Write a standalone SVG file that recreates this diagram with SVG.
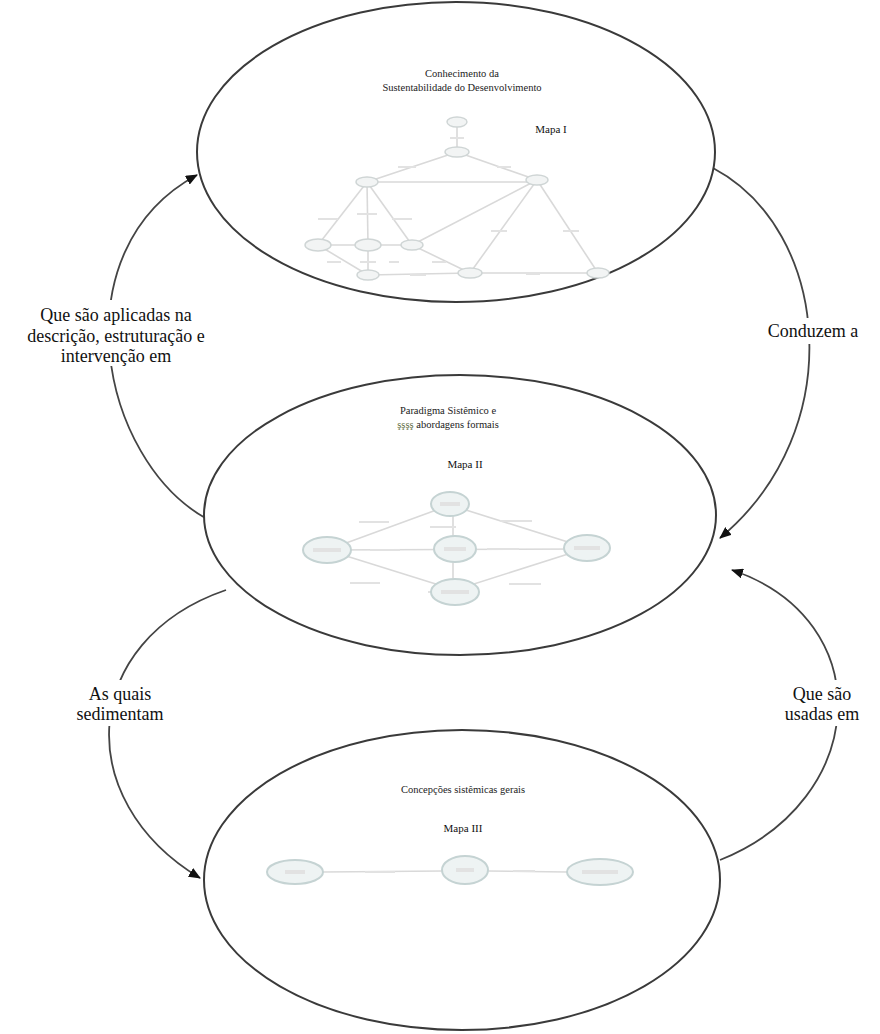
<svg xmlns="http://www.w3.org/2000/svg" width="880" height="1034" viewBox="0 0 880 1034">
<defs>
<marker id="ah" viewBox="0 0 12 10" refX="11" refY="5" markerWidth="12" markerHeight="10" markerUnits="userSpaceOnUse" orient="auto">
<path d="M0,0 L12,5 L0,10 z" fill="#111"/>
</marker>
<style>
.big{fill:#fff;stroke:#3a3a3a;stroke-width:2}
.arc{fill:none;stroke:#444;stroke-width:1.8}
.lbl{font-size:18px;fill:#111;text-anchor:middle}
.ttl{font-size:10.5px;fill:#222;text-anchor:middle}
.map{font-size:11px;fill:#111;text-anchor:middle}
.ml{stroke:#d9d9d9;stroke-width:1.6;fill:none}
.mn{fill:#f2f4f4;stroke:#cfd5d5;stroke-width:1.4}
.mn2{fill:#eef3f3;stroke:#c5d3d3;stroke-width:2}
.tl{fill:#e2e2e2}
.bg{fill:#fff}
</style>
</defs>

<g id="connectors">
<path class="arc" d="M 207 519 C 100 460, 58 250, 197 175" marker-end="url(#ah)"/>
<path class="arc" d="M 713 168 C 830 230, 850 430, 720 538" marker-end="url(#ah)"/>
<path class="arc" d="M 226 590 C 80 640, 70 800, 200 878" marker-end="url(#ah)"/>
<path class="arc" d="M 720 860 C 870 800, 880 620, 732 570" marker-end="url(#ah)"/>
</g>

<g font-family="Liberation Serif, Times New Roman, serif">
<g id="node-mapa1">
<ellipse class="big" cx="456" cy="152" rx="259" ry="150"/>
<text class="ttl" x="462" y="77">Conhecimento da</text>
<text class="ttl" x="462" y="91">Sustentabilidade do Desenvolvimento</text>
<text class="map" x="551" y="133">Mapa I</text>
<g>
<line class="ml" x1="457" y1="122" x2="457" y2="152"/>
<line class="ml" x1="457" y1="152" x2="367" y2="182"/>
<line class="ml" x1="457" y1="152" x2="537" y2="180"/>
<line class="ml" x1="367" y1="182" x2="537" y2="182"/>
<line class="ml" x1="367" y1="182" x2="318" y2="245"/>
<line class="ml" x1="367" y1="182" x2="368" y2="245"/>
<line class="ml" x1="367" y1="182" x2="412" y2="245"/>
<line class="ml" x1="537" y1="180" x2="412" y2="245"/>
<line class="ml" x1="537" y1="180" x2="470" y2="273"/>
<line class="ml" x1="537" y1="180" x2="598" y2="273"/>
<line class="ml" x1="318" y1="245" x2="412" y2="245"/>
<line class="ml" x1="318" y1="245" x2="368" y2="275"/>
<line class="ml" x1="368" y1="245" x2="368" y2="275"/>
<line class="ml" x1="412" y1="245" x2="470" y2="273"/>
<line class="ml" x1="368" y1="275" x2="470" y2="273"/>
<line class="ml" x1="470" y1="273" x2="598" y2="273"/>
<rect class="tl" x="450" y="137" width="14" height="2"/>
<rect class="tl" x="398" y="166" width="18" height="2"/>
<rect class="tl" x="497" y="166" width="14" height="2"/>
<rect class="tl" x="318" y="218" width="20" height="2"/>
<rect class="tl" x="357" y="213" width="20" height="2"/>
<rect class="tl" x="392" y="218" width="20" height="2"/>
<rect class="tl" x="491" y="230" width="16" height="2"/>
<rect class="tl" x="563" y="230" width="16" height="2"/>
<rect class="tl" x="327" y="261" width="14" height="2"/>
<rect class="tl" x="360" y="261" width="16" height="2"/>
<rect class="tl" x="389" y="261" width="10" height="2"/>
<rect class="tl" x="432" y="261" width="14" height="2"/>
<rect class="tl" x="410" y="274" width="16" height="2"/>
<rect class="tl" x="526" y="273" width="14" height="2"/>
<ellipse class="mn" cx="457" cy="122" rx="10" ry="5"/>
<ellipse class="mn" cx="457" cy="152" rx="12" ry="5"/>
<ellipse class="mn" cx="367" cy="182" rx="11" ry="5"/>
<ellipse class="mn" cx="537" cy="180" rx="11" ry="5"/>
<ellipse class="mn" cx="318" cy="245" rx="13" ry="6"/>
<ellipse class="mn" cx="368" cy="245" rx="13" ry="6"/>
<ellipse class="mn" cx="412" cy="245" rx="11" ry="5"/>
<ellipse class="mn" cx="368" cy="275" rx="11" ry="5"/>
<ellipse class="mn" cx="470" cy="273" rx="12" ry="5"/>
<ellipse class="mn" cx="598" cy="273" rx="11" ry="5"/>
</g>
</g>

<g id="node-mapa2">
<ellipse class="big" cx="460" cy="515" rx="256" ry="140"/>
<text class="ttl" x="448" y="414">Paradigma Sistêmico  e</text>
<text class="ttl" x="448" y="428"><tspan fill="#5a6a3a">şşşş</tspan> abordagens formais</text>
<text class="map" x="465" y="468">Mapa II</text>
<g>
<line class="ml" x1="450" y1="505" x2="327" y2="550"/>
<line class="ml" x1="450" y1="505" x2="587" y2="548"/>
<line class="ml" x1="453" y1="505" x2="453" y2="590"/>
<line class="ml" x1="327" y1="550" x2="587" y2="549"/>
<line class="ml" x1="327" y1="550" x2="455" y2="590"/>
<line class="ml" x1="587" y1="548" x2="455" y2="590"/>
<rect class="tl" x="359" y="521" width="30" height="2"/>
<rect class="tl" x="500" y="520" width="32" height="2"/>
<rect class="tl" x="430" y="526" width="26" height="2"/>
<rect class="tl" x="370" y="549" width="30" height="2"/>
<rect class="tl" x="487" y="548" width="32" height="2"/>
<rect class="tl" x="350" y="582" width="30" height="2"/>
<rect class="tl" x="428" y="591" width="6" height="2"/>
<rect class="tl" x="509" y="583" width="32" height="2"/>
<ellipse class="mn2" cx="450" cy="504" rx="19" ry="12"/>
<ellipse class="mn2" cx="327" cy="550" rx="24" ry="13"/>
<ellipse class="mn2" cx="455" cy="549" rx="21" ry="13"/>
<ellipse class="mn2" cx="587" cy="548" rx="23" ry="13"/>
<ellipse class="mn2" cx="455" cy="592" rx="24" ry="13"/>
<rect class="tl" x="440" y="502" width="20" height="4"/>
<rect class="tl" x="313" y="548" width="28" height="4"/>
<rect class="tl" x="444" y="547" width="22" height="4"/>
<rect class="tl" x="574" y="546" width="26" height="4"/>
<rect class="tl" x="441" y="590" width="28" height="4"/>
</g>
</g>

<g id="node-mapa3">
<ellipse class="big" cx="462" cy="880" rx="258" ry="150"/>
<text class="ttl" x="463" y="793">Concepções sistêmicas gerais</text>
<text class="map" x="463" y="832">Mapa III</text>
<g>
<line class="ml" x1="323" y1="872" x2="443" y2="871"/>
<line class="ml" x1="488" y1="871" x2="567" y2="872"/>
<rect class="tl" x="365" y="871" width="30" height="2"/>
<rect class="tl" x="513" y="870" width="22" height="2"/>
<ellipse class="mn2" cx="295" cy="872" rx="28" ry="12"/>
<ellipse class="mn2" cx="465" cy="870" rx="23" ry="14"/>
<ellipse class="mn2" cx="600" cy="872" rx="33" ry="13"/>
<rect class="tl" x="285" y="870" width="20" height="4"/>
<rect class="tl" x="456" y="868" width="18" height="4"/>
<rect class="tl" x="582" y="870" width="36" height="4"/>
</g>
</g>

<g id="label-aplicadas">
<rect class="bg" x="10" y="300" width="216" height="66"/>
<text class="lbl" x="116" y="321">Que são aplicadas na</text>
<text class="lbl" x="116" y="342">descrição, estruturação e</text>
<text class="lbl" x="116" y="362">intervenção em</text>
</g>
<g id="label-conduzem">
<rect class="bg" x="748" y="318" width="132" height="26"/>
<text class="lbl" x="813" y="337">Conduzem a</text>
</g>
<g id="label-sedimentam">
<rect class="bg" x="66" y="680" width="110" height="46"/>
<text class="lbl" x="120" y="700">As quais</text>
<text class="lbl" x="120" y="720">sedimentam</text>
</g>
<g id="label-usadas">
<rect class="bg" x="770" y="680" width="106" height="46"/>
<text class="lbl" x="822" y="700">Que são</text>
<text class="lbl" x="822" y="720">usadas em</text>
</g>
</g>
</svg>
